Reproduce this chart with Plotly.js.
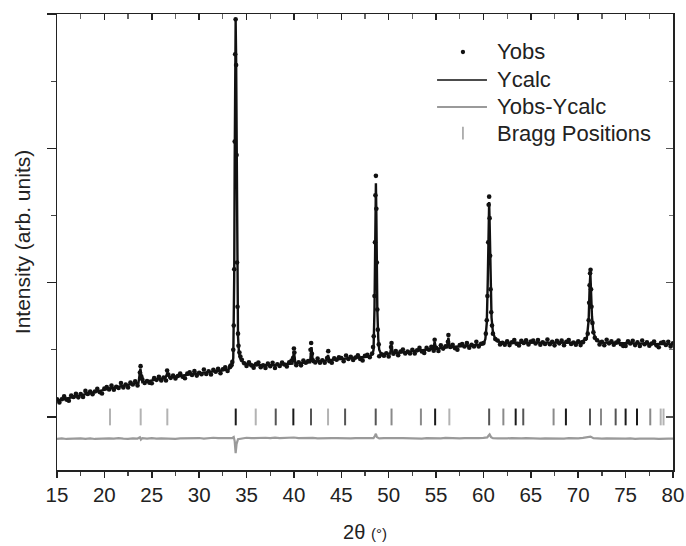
<!DOCTYPE html>
<html>
<head>
<meta charset="utf-8">
<script src="https://cdn.plot.ly/plotly-3.0.1.min.js"></script>
<style>html,body{margin:0;padding:0;background:#fff}#chart{width:686px;height:546px}</style>
</head>
<body>
<div id="chart"></div>
<script>
// ---- Observed pattern (uniform 0.25° grid, rows of 5°) ----
const obsX = [
15,15.25,15.5,15.75,16,16.25,16.5,16.75,17,17.25,17.5,17.75,18,18.25,18.5,18.75,19,19.25,19.5,19.75,
20,20.25,20.5,20.75,21,21.25,21.5,21.75,22,22.25,22.5,22.75,23,23.25,23.5,23.75,24,24.25,24.5,24.75,
25,25.25,25.5,25.75,26,26.25,26.5,26.75,27,27.25,27.5,27.75,28,28.25,28.5,28.75,29,29.25,29.5,29.75,
30,30.25,30.5,30.75,31,31.25,31.5,31.75,32,32.25,32.5,32.75,33,33.25,33.5,33.75,34,34.25,34.5,34.75,
35,35.25,35.5,35.75,36,36.25,36.5,36.75,37,37.25,37.5,37.75,38,38.25,38.5,38.75,39,39.25,39.5,39.75,
40,40.25,40.5,40.75,41,41.25,41.5,41.75,42,42.25,42.5,42.75,43,43.25,43.5,43.75,44,44.25,44.5,44.75,
45,45.25,45.5,45.75,46,46.25,46.5,46.75,47,47.25,47.5,47.75,48,48.25,48.5,48.75,49,49.25,49.5,49.75,
50,50.25,50.5,50.75,51,51.25,51.5,51.75,52,52.25,52.5,52.75,53,53.25,53.5,53.75,54,54.25,54.5,54.75,
55,55.25,55.5,55.75,56,56.25,56.5,56.75,57,57.25,57.5,57.75,58,58.25,58.5,58.75,59,59.25,59.5,59.75,
60,60.25,60.5,60.75,61,61.25,61.5,61.75,62,62.25,62.5,62.75,63,63.25,63.5,63.75,64,64.25,64.5,64.75,
65,65.25,65.5,65.75,66,66.25,66.5,66.75,67,67.25,67.5,67.75,68,68.25,68.5,68.75,69,69.25,69.5,69.75,
70,70.25,70.5,70.75,71,71.25,71.5,71.75,72,72.25,72.5,72.75,73,73.25,73.5,73.75,74,74.25,74.5,74.75,
75,75.25,75.5,75.75,76,76.25,76.5,76.75,77,77.25,77.5,77.75,78,78.25,78.5,78.75,79,79.25,79.5,79.75,
80];
const obsY = [
.132,.107,.132,.153,.129,.121,.160,.149,.173,.146,.170,.149,.194,.171,.190,.169,.189,.209,.185,.175,
.212,.222,.205,.233,.202,.225,.215,.252,.220,.242,.219,.256,.242,.265,.235,.330,.280,.253,.268,.255,
.251,.289,.276,.299,.271,.294,.271,.315,.291,.309,.287,.305,.324,.299,.288,.324,.332,.313,.341,.308,
.329,.318,.353,.320,.340,.316,.351,.336,.358,.326,.355,.370,.343,.372,.410,2.05,1.15,.480,.425,.400,
.380,.407,.384,.366,.393,.405,.370,.385,.365,.397,.377,.404,.364,.392,.379,.405,.391,.376,.406,.420,
.510,.385,.407,.384,.420,.403,.417,.500,.422,.406,.434,.403,.422,.404,.439,.415,.404,.436,.426,.444,
.439,.415,.457,.432,.448,.424,.442,.459,.432,.421,.456,.463,.444,.472,.900,1.15,.452,.467,.456,.474,
.450,.520,.470,.491,.459,.487,.502,.473,.486,.472,.500,.473,.496,.514,.488,.477,.514,.500,.522,.493,
.515,.491,.534,.509,.526,.560,.521,.538,.512,.501,.536,.543,.524,.550,.516,.537,.525,.559,.525,.545,
.550,.620,1.30,.950,.620,.580,.569,.540,.552,.537,.563,.535,.556,.572,.545,.532,.567,.551,.571,.540,
.562,.568,.547,.572,.537,.556,.543,.576,.541,.559,.533,.566,.548,.568,.534,.560,.573,.543,.554,.538,
.564,.535,.556,.580,.620,1.07,.700,.590,.571,.540,.560,.534,.575,.548,.563,.538,.553,.569,.541,.528,
.529,.564,.547,.567,.535,.555,.528,.569,.541,.556,.530,.546,.561,.533,.519,.552,.557,.536,.560,.525,
.548];
// extra observed points sampled across the Bragg peaks
const obsPeakX = [23.82,23.9,26.62,33.3,33.4,33.6,33.65,33.7,33.8,33.85,33.9,33.95,34.05,34.1,34.15,34.35,
39.92,40.05,41.82,41.9,43.62,48.35,48.42,48.55,48.6,48.65,48.7,48.8,48.85,48.95,50.3,54.85,56.3,
60.35,60.42,60.55,60.6,60.65,60.7,60.82,60.9,71.1,71.15,71.2,71.3,71.35,71.4,71.6];
const obsPeakY = [.378,.300,.345,.380,.385,.500,.680,1.10,2.70,2.96,2.62,1.95,.820,.620,.530,.450,
.440,.480,.550,.470,.490,.520,.600,1.30,1.65,1.795,1.55,.800,.650,.540,.550,.575,.610,
.720,.900,1.58,1.64,1.48,1.20,.780,.680,.720,.850,.980,1.095,.950,.820,.630];

// ---- Calculated pattern ----
const calcX = [15,16,17,18,19,20,21,22,23,23.6,23.8,24,25,26,26.45,26.65,26.85,27,28,29,30,31,32,33,33.3,33.5,33.6,33.65,33.7,33.75,33.8,33.85,33.9,33.95,34,34.05,34.1,34.2,34.35,34.5,
35,36,37,38,39,39.85,40,40.15,41,41.7,41.85,42,43,43.45,43.6,43.75,44,45,46,47,48,48.3,48.4,48.5,48.55,48.6,48.65,48.7,48.75,48.8,48.9,49,49.2,
50,50.15,50.3,50.45,51,52,53,54,54.7,54.85,55,56,56.15,56.3,56.45,57,58,59,60,60.2,60.35,60.45,60.55,60.6,60.65,60.75,60.85,61,61.3,
62,63,64,65,66,67,68,69,70,70.9,71.1,71.2,71.28,71.35,71.45,71.6,71.9,72.5,73,74,75,76,77,78,79,80];
const calcY = [.120,.137,.155,.172,.188,.203,.218,.232,.246,.254,.360,.259,.272,.284,.290,.330,.294,.296,.307,.317,.326,.334,.342,.352,.365,.385,.440,.620,1.05,1.90,2.72,2.95,2.68,1.98,1.20,.800,.600,.480,.435,.415,
.392,.385,.383,.386,.392,.397,.490,.400,.404,.407,.520,.410,.418,.421,.460,.423,.425,.432,.438,.443,.450,.470,.500,.800,1.20,1.60,1.74,1.50,1.10,.800,.580,.500,.468,
.470,.472,.530,.474,.477,.484,.492,.500,.506,.560,.508,.516,.517,.590,.519,.523,.530,.535,.540,.580,.700,1.00,1.52,1.60,1.45,.950,.740,.630,.570,
.550,.552,.553,.553,.553,.553,.552,.552,.552,.580,.720,.960,1.07,.940,.750,.630,.570,.553,.553,.552,.550,.548,.546,.544,.542,.540];

// ---- Difference curve (offset below the pattern) ----
const diffX = [15,15.5,16,16.5,17,17.5,18,18.5,19,19.5,20,20.5,21,21.5,22,22.5,23,23.5,23.75,23.85,24,24.5,25,25.5,26,26.5,27,27.5,28,28.5,29,29.5,30,30.5,31,31.5,32,32.5,33,33.5,33.65,33.75,33.85,33.95,34.1,34.5,
35,35.5,36,36.5,37,37.5,38,38.5,39,39.5,40,40.5,41,41.5,42,42.5,43,43.5,44,44.5,45,45.5,46,46.5,47,47.5,48,48.4,48.55,48.65,48.75,49,49.5,
50,50.5,51,51.5,52,52.5,53,53.5,54,54.5,55,55.5,56,56.5,57,57.5,58,58.5,59,59.5,60,60.4,60.55,60.65,60.8,61,61.5,
62,62.5,63,63.5,64,64.5,65,65.5,66,66.5,67,67.5,68,68.5,69,69.5,70,70.5,71,71.3,71.6,72,72.5,73,73.5,74,74.5,75,75.5,76,76.5,77,77.5,78,78.5,79,79.5,80];
const diffY = [-.163,-.160,-.164,-.161,-.162,-.159,-.163,-.160,-.164,-.161,-.163,-.160,-.162,-.158,-.161,-.163,-.159,-.161,-.152,-.168,-.158,-.161,-.158,-.162,-.159,-.161,-.158,-.163,-.160,-.158,-.161,-.159,-.157,-.161,-.158,-.155,-.158,-.156,-.159,-.157,-.150,-.180,-.270,-.200,-.165,-.158,
-.155,-.158,-.156,-.159,-.155,-.157,-.154,-.158,-.156,-.159,-.153,-.157,-.155,-.158,-.156,-.159,-.157,-.160,-.158,-.157,-.159,-.158,-.160,-.157,-.158,-.156,-.158,-.157,-.140,-.125,-.150,-.160,-.158,
-.156,-.159,-.157,-.158,-.160,-.157,-.159,-.161,-.158,-.160,-.157,-.159,-.156,-.158,-.157,-.159,-.158,-.156,-.158,-.157,-.156,-.152,-.138,-.130,-.150,-.158,-.160,
-.157,-.159,-.158,-.161,-.159,-.157,-.160,-.158,-.161,-.159,-.160,-.157,-.159,-.161,-.158,-.160,-.159,-.156,-.152,-.146,-.158,-.160,-.162,-.159,-.161,-.163,-.160,-.162,-.159,-.163,-.161,-.160,-.162,-.161,-.163,-.160,-.162,-.161];

// ---- Bragg reflections (2θ) and their relative strength (0 weak .. 3 strong) ----
const braggPos = [20.59,23.83,26.64,33.86,35.97,38.08,39.94,41.8,43.6,45.4,48.63,50.3,53.4,54.9,56.4,60.6,62.1,63.4,64.2,67.4,68.7,71.24,72.4,73.95,75.0,76.2,77.6,78.7,79.0];
const braggLevel = [0,0,0,3,0,2,3,2,0,2,2,1,1,3,0,2,1,3,2,1,3,2,1,2,3,3,1,0,0];

// ---- Legend labels ----
const legendLabels = ['Yobs', 'Ycalc', 'Yobs-Ycalc', 'Bragg Positions'];

const BRAGG_ROW = 0;
const shade = ['#b3b3b3', '#8a8a8a', '#555555', '#1a1a1a'];
const FONT = 'Liberation Sans, Arial, sans-serif';

const traces = [
  {x: diffX, y: diffY, mode: 'lines', name: legendLabels[2],
   line: {color: '#9a9a9a', width: 2.2}, hoverinfo: 'skip'},
  {x: braggPos, y: braggPos.map(() => BRAGG_ROW), mode: 'markers', name: legendLabels[3],
   marker: {symbol: 'line-ns', size: 12, color: braggLevel.map(l => shade[l]),
            line: {width: 2, color: braggLevel.map(l => shade[l])}}, hoverinfo: 'skip'},
  {x: calcX, y: calcY, mode: 'lines', name: legendLabels[1],
   line: {color: '#111', width: 2.4}, hoverinfo: 'skip'},
  {x: obsX.concat(obsPeakX), y: obsY.concat(obsPeakY), mode: 'markers', name: legendLabels[0],
   marker: {color: '#111', size: 4.6}, hoverinfo: 'skip'},
  {x: [null], y: [null], xaxis: 'x2', yaxis: 'y2', mode: 'markers', showlegend: false, hoverinfo: 'skip'}
];

// hand-placed legend (paper coordinates)
const LEG_TEXT_X = 0.711, LEG_SYM_X0 = 0.617, LEG_SYM_X1 = 0.698, LEG_SYM_XC = 0.659;
const LEG_ROWS = [0.9167, 0.8553, 0.7961, 0.739];
const annotations = legendLabels.map((t, i) => ({
  text: t, xref: 'paper', yref: 'paper', x: LEG_TEXT_X, y: LEG_ROWS[i],
  xanchor: 'left', yanchor: 'middle', showarrow: false,
  font: {family: FONT, size: 22, color: '#222'}
}));
const shapes = [
  {type: 'circle', xref: 'paper', yref: 'paper', x0: LEG_SYM_XC - 0.0035, x1: LEG_SYM_XC + 0.0035,
   y0: LEG_ROWS[0] - 0.0047, y1: LEG_ROWS[0] + 0.0047, fillcolor: '#111', line: {width: 0}},
  {type: 'line', xref: 'paper', yref: 'paper', x0: LEG_SYM_X0, x1: LEG_SYM_X1, y0: LEG_ROWS[1], y1: LEG_ROWS[1],
   line: {color: '#111', width: 1.6}},
  {type: 'line', xref: 'paper', yref: 'paper', x0: LEG_SYM_X0, x1: LEG_SYM_X1, y0: LEG_ROWS[2], y1: LEG_ROWS[2],
   line: {color: '#9a9a9a', width: 2}},
  {type: 'line', xref: 'paper', yref: 'paper', x0: LEG_SYM_XC, x1: LEG_SYM_XC, y0: LEG_ROWS[3] - 0.014, y1: LEG_ROWS[3] + 0.014,
   line: {color: '#9a9a9a', width: 1.5}}
];

const layout = {
  width: 686, height: 546,
  margin: {l: 57, r: 13, t: 14, b: 76, pad: 0},
  paper_bgcolor: '#fff', plot_bgcolor: '#fff',
  font: {family: FONT, color: '#222'},
  showlegend: false,
  annotations: annotations,
  shapes: shapes,
  xaxis: {range: [15, 80], tick0: 15, dtick: 5, ticks: 'outside', ticklen: 6, tickwidth: 1.5, tickcolor: '#222',
          minor: {dtick: 2.5, tick0: 15, ticks: 'outside', ticklen: 4, tickwidth: 1.2, tickcolor: '#444'},
          showline: true, linecolor: '#222', linewidth: 1.5, showgrid: false, zeroline: false,
          tickfont: {family: FONT, size: 20.5, color: '#222'},
          title: {text: '2θ <span style="font-size:15px">(°)</span>', font: {family: FONT, size: 20, color: '#222'}, standoff: 20}},
  xaxis2: {overlaying: 'x', side: 'top', range: [15, 80], tick0: 15, dtick: 5, ticks: 'inside', ticklen: 6, tickwidth: 1.5, tickcolor: '#222',
           minor: {dtick: 2.5, tick0: 15, ticks: 'inside', ticklen: 5, tickwidth: 1.2, tickcolor: '#666'},
           showline: true, linecolor: '#222', linewidth: 1.5, showgrid: false, zeroline: false, showticklabels: false},
  yaxis: {range: [-0.395, 3], tick0: 0, dtick: 1, ticks: 'outside', ticklen: 9, tickwidth: 1.5, tickcolor: '#222',
          minor: {dtick: 0.5, tick0: 0, ticks: 'outside', ticklen: 5, tickwidth: 1.2, tickcolor: '#444'},
          showline: true, linecolor: '#222', linewidth: 1.5, showgrid: false, zeroline: false, showticklabels: false,
          title: {text: 'Intensity (arb. units)', font: {family: FONT, size: 21, color: '#222'}, standoff: 10}},
  yaxis2: {overlaying: 'y', side: 'right', range: [-0.395, 3], tick0: 0, dtick: 1, ticks: 'inside', ticklen: 7, tickwidth: 1.5, tickcolor: '#555',
           minor: {dtick: 0.5, tick0: 0, ticks: 'inside', ticklen: 4, tickwidth: 1.2, tickcolor: '#777'},
           showline: true, linecolor: '#222', linewidth: 1.5, showgrid: false, zeroline: false, showticklabels: false}
};

Plotly.newPlot('chart', traces, layout, {staticPlot: true, displayModeBar: false});
</script>
</body>
</html>
